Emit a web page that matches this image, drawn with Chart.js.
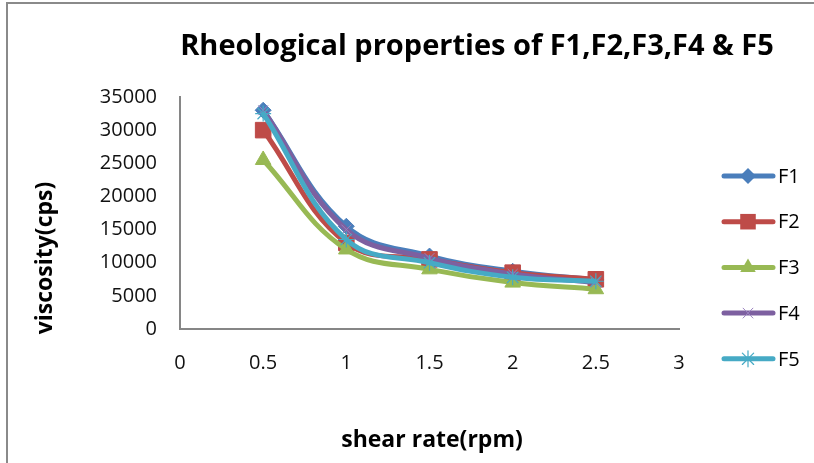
<!DOCTYPE html>
<html><head><meta charset="utf-8">
<script src="https://cdn.jsdelivr.net/npm/chart.js@4.4.1/dist/chart.umd.min.js"></script>
<style>
html,body{margin:0;padding:0;background:#fff;overflow:hidden;}
#wrap{position:relative;width:814px;height:463px;overflow:hidden;background:#fff;}
#frame{position:absolute;left:6px;top:2px;width:900px;height:600px;border-left:2px solid #8a8a8a;border-top:2px solid #8a8a8a;pointer-events:none;}
canvas{position:absolute;left:0;top:0;}
</style></head><body>
<div id="wrap"><canvas id="c" width="814" height="463"></canvas><div id="frame"></div></div>
<script>
const chartTitle = "Rheological properties of F1,F2,F3,F4 & F5";
const xTitle = "shear rate(rpm)";
const yTitle = "viscosity(cps)";
const shearRate = [0.5, 1, 1.5, 2, 2.5];
const seriesNames = ["F1", "F2", "F3", "F4", "F5"];
const F1 = [33000, 15500, 11000, 8700, 7400];
const F2 = [30000, 13000, 10500, 8500, 7500];
const F3 = [25500, 12000, 9000, 7000, 6000];
const F4 = [33000, 15000, 10700, 8300, 7000];
const F5 = [32500, 13500, 10000, 7800, 7200];
const xTicks = [0, 0.5, 1, 1.5, 2, 2.5, 3];
const xTickLabels = ["0", "0.5", "1", "1.5", "2", "2.5", "3"];
const yTicks = [0, 5000, 10000, 15000, 20000, 25000, 30000, 35000];
const yTickLabels = ["0", "5000", "10000", "15000", "20000", "25000", "30000", "35000"];

const seriesValues = [F1, F2, F3, F4, F5];
const colors = ["#4A7EBB", "#BE4B48", "#98B954", "#7D60A0", "#46AAC5"];
const styles = [
  {pointStyle: 'rectRot', radius: 8, fill: true, bw: 1},
  {pointStyle: 'rect', radius: 11, fill: true, bw: 1},
  {pointStyle: 'triangle', radius: 9, fill: true, bw: 1},
  {pointStyle: 'crossRot', radius: 7, fill: false, bw: 1},
  {pointStyle: 'star', radius: 8, fill: false, bw: 1.2}
];
const markerColors = ["#4A7EBB", "#BE4B48", "#98B954", "#9A82BF", "#46AAC5"];

const datasets = seriesNames.map((name, i) => ({
  label: name,
  data: shearRate.map((x, j) => ({x: x, y: seriesValues[i][j]})),
  borderColor: colors[i],
  backgroundColor: markerColors[i],
  borderWidth: 5,
  tension: 0.4,
  pointStyle: styles[i].pointStyle,
  pointRadius: styles[i].radius,
  pointBackgroundColor: styles[i].fill ? markerColors[i] : 'rgba(0,0,0,0)',
  pointBorderColor: markerColors[i],
  pointBorderWidth: styles[i].bw,
  order: seriesNames.length - i,
  fill: false
}));

function drawMarker(ctx, st, col, x, y) {
  const r = st.radius;
  ctx.save();
  ctx.fillStyle = col; ctx.strokeStyle = col; ctx.lineWidth = st.bw;
  ctx.beginPath();
  if (st.pointStyle === 'rectRot') {
    ctx.moveTo(x - r, y); ctx.lineTo(x, y - r); ctx.lineTo(x + r, y); ctx.lineTo(x, y + r); ctx.closePath(); ctx.fill();
  } else if (st.pointStyle === 'rect') {
    const s = r * Math.SQRT1_2; ctx.rect(x - s, y - s, 2 * s, 2 * s); ctx.fill();
  } else if (st.pointStyle === 'triangle') {
    ctx.moveTo(x, y - r); ctx.lineTo(x + r * 0.866, y + r * 0.5); ctx.lineTo(x - r * 0.866, y + r * 0.5); ctx.closePath(); ctx.fill();
  } else if (st.pointStyle === 'crossRot') {
    const s = r * Math.SQRT1_2;
    ctx.moveTo(x - s, y - s); ctx.lineTo(x + s, y + s); ctx.moveTo(x + s, y - s); ctx.lineTo(x - s, y + s); ctx.stroke();
  } else if (st.pointStyle === 'star') {
    const s = r * Math.SQRT1_2;
    ctx.moveTo(x - s, y - s); ctx.lineTo(x + s, y + s); ctx.moveTo(x + s, y - s); ctx.lineTo(x - s, y + s);
    ctx.moveTo(x, y - r); ctx.lineTo(x, y + r); ctx.moveTo(x - r, y); ctx.lineTo(x + r, y); ctx.stroke();
  }
  ctx.restore();
}

const overlay = {
  id: 'overlay',
  afterDraw(chart) {
    const ctx = chart.ctx;
    const a = chart.chartArea;
    ctx.save();
    ctx.fillStyle = '#000';
    ctx.textAlign = 'center';
    ctx.textBaseline = 'middle';
    ctx.font = 'bold 29px "Open Sans"';
    ctx.fillText(chartTitle, 477, 47);
    ctx.font = 'bold 23px "Open Sans"';
    ctx.fillText(xTitle, 432, 440);
    ctx.save();
    ctx.translate(45, 258);
    ctx.rotate(-Math.PI / 2);
    ctx.fillText(yTitle, 0, 0);
    ctx.restore();
    ctx.textAlign = 'left';
    ctx.font = '20px "Open Sans"';
    seriesNames.forEach((name, i) => {
      const y = 176 + i * 45.7;
      ctx.strokeStyle = colors[i];
      ctx.lineWidth = 5;
      ctx.lineCap = 'round';
      ctx.beginPath(); ctx.moveTo(724, y); ctx.lineTo(773, y); ctx.stroke();
      drawMarker(ctx, styles[i], markerColors[i], 748, y);
      ctx.fillStyle = '#000';
      ctx.fillText(name, 778, y + 1);
    });
    ctx.restore();
  }
};

new Chart(document.getElementById('c'), {
  type: 'line',
  data: {datasets: datasets},
  options: {
    responsive: false,
    animation: false,
    devicePixelRatio: 1,
    layout: {padding: {left: 0, top: 97, right: 135, bottom: 0}},
    plugins: {legend: {display: false}, tooltip: {enabled: false}, title: {display: false}},
    scales: {
      x: {
        type: 'linear', min: 0, max: 3,
        afterBuildTicks: s => { s.ticks = xTicks.map(v => ({value: v})); },
        afterFit: s => { s.height = 463 - 329; },
        grid: {display: false, drawTicks: false},
        border: {display: true, color: '#868686', width: 2},
        ticks: {padding: 22, color: '#111', font: {family: 'Open Sans', size: 20},
          callback: (v, i) => xTickLabels[i], maxRotation: 0, autoSkip: false}
      },
      y: {
        type: 'linear', min: 0, max: 35000,
        afterBuildTicks: s => { s.ticks = yTicks.map(v => ({value: v})); },
        afterFit: s => { s.width = 180; },
        grid: {display: false, drawTicks: false},
        border: {display: true, color: '#868686', width: 2},
        ticks: {padding: 23, color: '#111', font: {family: 'Open Sans', size: 20},
          callback: (v, i) => yTickLabels[i], autoSkip: false}
      }
    }
  },
  plugins: [overlay]
});
</script>
</body></html>
